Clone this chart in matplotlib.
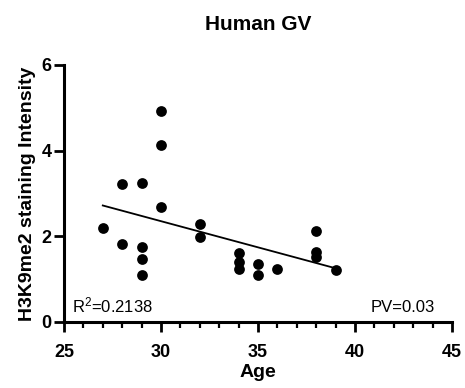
import numpy as np
import matplotlib.pyplot as plt
from matplotlib.ticker import MultipleLocator

plt.rcParams['font.family'] = ['Liberation Sans', 'DejaVu Sans']
plt.rcParams['font.weight'] = 'bold'
plt.rcParams['mathtext.default'] = 'regular'

age = [27, 28, 28, 29, 29, 29, 29, 30, 30, 30, 32, 32,
       34, 34, 34, 35, 35, 36, 38, 38, 38, 39]
intensity = [2.2, 3.21, 1.82, 3.23, 1.75, 1.46, 1.09, 4.92, 4.14, 2.67, 2.28, 1.97,
             1.60, 1.40, 1.23, 1.34, 1.09, 1.22, 2.12, 1.62, 1.50, 1.21]
r2_label = 'R$^2$=0.2138'
pv_label = 'PV=0.03'

fig = plt.figure(figsize=(4.65, 3.88), dpi=100)
ax = fig.add_axes([0.1376, 0.171, 0.8344, 0.6615])

ax.scatter(age, intensity, s=60, color='black', zorder=3, linewidths=0)

# linear fit
k, b = np.polyfit(age, intensity, 1)
xs = np.array([min(age), max(age)])
ax.plot(xs, k * xs + b, color='black', lw=1.3)

ax.set_xlim(25, 45)
ax.set_ylim(0, 6)
ax.xaxis.set_major_locator(MultipleLocator(5))
ax.xaxis.set_minor_locator(MultipleLocator(1))
ax.yaxis.set_major_locator(MultipleLocator(2))

for s in ['top', 'right']:
    ax.spines[s].set_visible(False)
for s in ['left', 'bottom']:
    ax.spines[s].set_linewidth(2.2)
ax.tick_params(which='major', length=7, width=2, labelsize=13)
ax.tick_params(axis='x', which='major', pad=9)
ax.tick_params(axis='y', which='major', pad=2)
ax.tick_params(which='minor', length=4.5, width=1.6)

ax.set_xlabel('Age', fontsize=14, fontweight='bold', labelpad=2)
ax.set_ylabel('H3K9me2 staining Intensity', fontsize=14, fontweight='bold', labelpad=4)
ax.set_title('Human GV', fontsize=15, fontweight='bold', pad=25)

ax.text(0.02, 0.025, r2_label, transform=ax.transAxes, fontsize=12,
        fontweight='normal', ha='left', va='bottom')
ax.text(0.955, 0.025, pv_label, transform=ax.transAxes, fontsize=12,
        fontweight='normal', ha='right', va='bottom')

plt.savefig('out.png', dpi=100)
